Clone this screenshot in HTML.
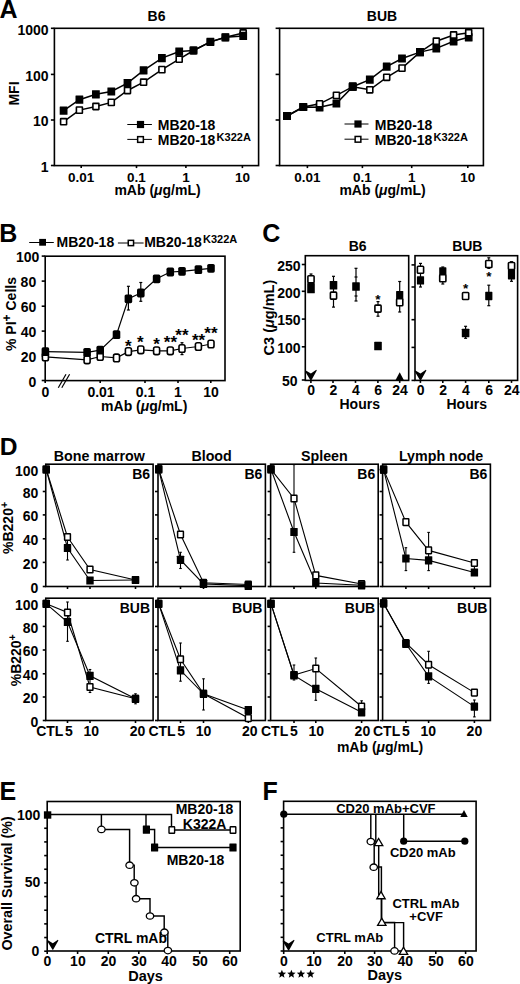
<!DOCTYPE html>
<html><head><meta charset="utf-8"><style>
html,body{margin:0;padding:0;background:#fff;}
svg{display:block;font-family:"Liberation Sans",sans-serif;}
</style></head><body>
<svg width="520" height="984" viewBox="0 0 520 984">
<rect width="520" height="984" fill="#fff"/>
<text x="-0.5" y="17.5" font-size="25" text-anchor="start" font-weight="bold" >A</text>
<rect x="54.4" y="28.3" width="204.2" height="137.3" fill="none" stroke="#000" stroke-width="1.6"/>
<line x1="50.9" y1="28.3" x2="54.4" y2="28.3" stroke="#000" stroke-width="1.6"/>
<text x="48.6" y="34.6" font-size="14" text-anchor="end" font-weight="bold" >1000</text>
<line x1="50.9" y1="74.4" x2="54.4" y2="74.4" stroke="#000" stroke-width="1.6"/>
<text x="48.6" y="80.7" font-size="14" text-anchor="end" font-weight="bold" >100</text>
<line x1="50.9" y1="120" x2="54.4" y2="120" stroke="#000" stroke-width="1.6"/>
<text x="48.6" y="126.3" font-size="14" text-anchor="end" font-weight="bold" >10</text>
<line x1="50.9" y1="165.5" x2="54.4" y2="165.5" stroke="#000" stroke-width="1.6"/>
<text x="48.6" y="171.8" font-size="14" text-anchor="end" font-weight="bold" >1</text>
<line x1="81.2" y1="165.6" x2="81.2" y2="168.1" stroke="#000" stroke-width="1.6"/>
<text x="81.2" y="181.6" font-size="13.5" text-anchor="middle" font-weight="bold" >0.01</text>
<line x1="136.5" y1="165.6" x2="136.5" y2="168.1" stroke="#000" stroke-width="1.6"/>
<text x="136.5" y="181.6" font-size="13.5" text-anchor="middle" font-weight="bold" >0.1</text>
<line x1="185.9" y1="165.6" x2="185.9" y2="168.1" stroke="#000" stroke-width="1.6"/>
<text x="185.9" y="181.6" font-size="13.5" text-anchor="middle" font-weight="bold" >1</text>
<line x1="242.4" y1="165.6" x2="242.4" y2="168.1" stroke="#000" stroke-width="1.6"/>
<text x="242.4" y="181.6" font-size="13.5" text-anchor="middle" font-weight="bold" >10</text>
<text x="157.5" y="194.5" font-size="14" text-anchor="middle" font-weight="bold" >mAb (<tspan font-style="italic">μ</tspan>g/mL)</text>
<text x="156.5" y="20.8" font-size="14" text-anchor="middle" font-weight="bold" >B6</text>
<text transform="translate(18.8,93.5) rotate(-90)" font-size="14" text-anchor="middle" font-weight="bold">MFI</text>
<polyline points="63.6,121.7 79.4,110.1 95.9,106.5 111.3,102.4 127.5,90.5 143.6,82.2 161.9,69.6 179.2,59.2 193.5,50.5 210.4,41.9 225.4,37.3 243.2,33" fill="none" stroke="#000" stroke-width="1.5" stroke-linejoin="miter"/>
<polyline points="63.6,110.7 79.4,99.7 95.9,94.3 111.3,91.5 127.5,83.2 143.6,70.3 161.9,58.1 179.2,51.6 193.5,50.5 210.4,41.9 225.4,37.3 243.2,35.9" fill="none" stroke="#000" stroke-width="1.5" stroke-linejoin="miter"/>
<rect x="60.6" y="118.6" width="6" height="6.2" rx="0.3" fill="#fff" stroke="#000" stroke-width="1.6"/>
<rect x="76.4" y="107" width="6" height="6.2" rx="0.3" fill="#fff" stroke="#000" stroke-width="1.6"/>
<rect x="92.9" y="103.4" width="6" height="6.2" rx="0.3" fill="#fff" stroke="#000" stroke-width="1.6"/>
<rect x="108.3" y="99.3" width="6" height="6.2" rx="0.3" fill="#fff" stroke="#000" stroke-width="1.6"/>
<rect x="124.5" y="87.4" width="6" height="6.2" rx="0.3" fill="#fff" stroke="#000" stroke-width="1.6"/>
<rect x="140.6" y="79.1" width="6" height="6.2" rx="0.3" fill="#fff" stroke="#000" stroke-width="1.6"/>
<rect x="158.9" y="66.5" width="6" height="6.2" rx="0.3" fill="#fff" stroke="#000" stroke-width="1.6"/>
<rect x="176.2" y="56.1" width="6" height="6.2" rx="0.3" fill="#fff" stroke="#000" stroke-width="1.6"/>
<rect x="190.5" y="47.4" width="6" height="6.2" rx="0.3" fill="#fff" stroke="#000" stroke-width="1.6"/>
<rect x="207.4" y="38.8" width="6" height="6.2" rx="0.3" fill="#fff" stroke="#000" stroke-width="1.6"/>
<rect x="222.4" y="34.2" width="6" height="6.2" rx="0.3" fill="#fff" stroke="#000" stroke-width="1.6"/>
<rect x="240.2" y="29.9" width="6" height="6.2" rx="0.3" fill="#fff" stroke="#000" stroke-width="1.6"/>
<rect x="59.7" y="106.6" width="7.8" height="8.2" rx="0.3" fill="#000"/>
<rect x="75.5" y="95.6" width="7.8" height="8.2" rx="0.3" fill="#000"/>
<rect x="92" y="90.2" width="7.8" height="8.2" rx="0.3" fill="#000"/>
<rect x="107.4" y="87.4" width="7.8" height="8.2" rx="0.3" fill="#000"/>
<rect x="123.6" y="79.1" width="7.8" height="8.2" rx="0.3" fill="#000"/>
<rect x="139.7" y="66.2" width="7.8" height="8.2" rx="0.3" fill="#000"/>
<rect x="158" y="54" width="7.8" height="8.2" rx="0.3" fill="#000"/>
<rect x="175.3" y="47.5" width="7.8" height="8.2" rx="0.3" fill="#000"/>
<rect x="189.6" y="46.4" width="7.8" height="8.2" rx="0.3" fill="#000"/>
<rect x="206.5" y="37.8" width="7.8" height="8.2" rx="0.3" fill="#000"/>
<rect x="221.5" y="33.2" width="7.8" height="8.2" rx="0.3" fill="#000"/>
<rect x="239.3" y="31.8" width="7.8" height="8.2" rx="0.3" fill="#000"/>
<line x1="127.3" y1="124.5" x2="151.9" y2="124.5" stroke="#000" stroke-width="1.0"/>
<rect x="136.9" y="120.9" width="7.2" height="7.2" fill="#000"/>
<line x1="127.3" y1="139.4" x2="151.9" y2="139.4" stroke="#000" stroke-width="1.0"/>
<rect x="137.65" y="136.65" width="5.7" height="5.7" fill="#fff" stroke="#000" stroke-width="1.5"/>
<text x="157.8" y="130.2" font-size="14" text-anchor="start" font-weight="bold" >MB20-18</text>
<text x="157.8" y="145" font-size="14" text-anchor="start" font-weight="bold" >MB20-18<tspan font-size="11" dx="1.2" dy="-4">K322A</tspan></text>
<rect x="279.6" y="28.3" width="203.8" height="137.3" fill="none" stroke="#000" stroke-width="1.6"/>
<line x1="275.6" y1="28.3" x2="279.6" y2="28.3" stroke="#000" stroke-width="1.6"/>
<line x1="275.6" y1="74.4" x2="279.6" y2="74.4" stroke="#000" stroke-width="1.6"/>
<line x1="275.6" y1="120" x2="279.6" y2="120" stroke="#000" stroke-width="1.6"/>
<line x1="275.6" y1="165.5" x2="279.6" y2="165.5" stroke="#000" stroke-width="1.6"/>
<line x1="307.4" y1="165.6" x2="307.4" y2="168.1" stroke="#000" stroke-width="1.6"/>
<text x="307.4" y="181.6" font-size="13.5" text-anchor="middle" font-weight="bold" >0.01</text>
<line x1="362.4" y1="165.6" x2="362.4" y2="168.1" stroke="#000" stroke-width="1.6"/>
<text x="362.4" y="181.6" font-size="13.5" text-anchor="middle" font-weight="bold" >0.1</text>
<line x1="411.7" y1="165.6" x2="411.7" y2="168.1" stroke="#000" stroke-width="1.6"/>
<text x="411.7" y="181.6" font-size="13.5" text-anchor="middle" font-weight="bold" >1</text>
<line x1="467.8" y1="165.6" x2="467.8" y2="168.1" stroke="#000" stroke-width="1.6"/>
<text x="467.8" y="181.6" font-size="13.5" text-anchor="middle" font-weight="bold" >10</text>
<text x="382.5" y="194.5" font-size="14" text-anchor="middle" font-weight="bold" >mAb (<tspan font-style="italic">μ</tspan>g/mL)</text>
<text x="382" y="20.8" font-size="14" text-anchor="middle" font-weight="bold" >BUB</text>
<polyline points="287,116 303.3,107 319.6,107.3 336.4,103.5 352.7,86.7 369.8,79.6 386.7,66.7 402,58.5 420,52.1 436.3,48.4 453.6,41.3 468.7,37.3" fill="none" stroke="#000" stroke-width="1.5" stroke-linejoin="miter"/>
<polyline points="287,116 303.3,107 319.6,103.8 336.4,95.4 352.7,86.7 369.8,89.8 386.7,77.3 402,68.1 420,52.1 436.3,41.2 453.6,35 468.7,32.7" fill="none" stroke="#000" stroke-width="1.5" stroke-linejoin="miter"/>
<rect x="283.1" y="111.9" width="7.8" height="8.2" rx="0.3" fill="#000"/>
<rect x="299.4" y="102.9" width="7.8" height="8.2" rx="0.3" fill="#000"/>
<rect x="315.7" y="103.2" width="7.8" height="8.2" rx="0.3" fill="#000"/>
<rect x="332.5" y="99.4" width="7.8" height="8.2" rx="0.3" fill="#000"/>
<rect x="348.8" y="82.6" width="7.8" height="8.2" rx="0.3" fill="#000"/>
<rect x="365.9" y="75.5" width="7.8" height="8.2" rx="0.3" fill="#000"/>
<rect x="382.8" y="62.6" width="7.8" height="8.2" rx="0.3" fill="#000"/>
<rect x="398.1" y="54.4" width="7.8" height="8.2" rx="0.3" fill="#000"/>
<rect x="416.1" y="48" width="7.8" height="8.2" rx="0.3" fill="#000"/>
<rect x="432.4" y="44.3" width="7.8" height="8.2" rx="0.3" fill="#000"/>
<rect x="449.7" y="37.2" width="7.8" height="8.2" rx="0.3" fill="#000"/>
<rect x="464.8" y="33.2" width="7.8" height="8.2" rx="0.3" fill="#000"/>
<rect x="284" y="112.9" width="6" height="6.2" rx="0.3" fill="#fff" stroke="#000" stroke-width="1.6"/>
<rect x="300.3" y="103.9" width="6" height="6.2" rx="0.3" fill="#fff" stroke="#000" stroke-width="1.6"/>
<rect x="316.6" y="100.7" width="6" height="6.2" rx="0.3" fill="#fff" stroke="#000" stroke-width="1.6"/>
<rect x="333.4" y="92.3" width="6" height="6.2" rx="0.3" fill="#fff" stroke="#000" stroke-width="1.6"/>
<rect x="349.7" y="83.6" width="6" height="6.2" rx="0.3" fill="#fff" stroke="#000" stroke-width="1.6"/>
<rect x="366.8" y="86.7" width="6" height="6.2" rx="0.3" fill="#fff" stroke="#000" stroke-width="1.6"/>
<rect x="383.7" y="74.2" width="6" height="6.2" rx="0.3" fill="#fff" stroke="#000" stroke-width="1.6"/>
<rect x="399" y="65" width="6" height="6.2" rx="0.3" fill="#fff" stroke="#000" stroke-width="1.6"/>
<rect x="417" y="49" width="6" height="6.2" rx="0.3" fill="#fff" stroke="#000" stroke-width="1.6"/>
<rect x="433.3" y="38.1" width="6" height="6.2" rx="0.3" fill="#fff" stroke="#000" stroke-width="1.6"/>
<rect x="450.6" y="31.9" width="6" height="6.2" rx="0.3" fill="#fff" stroke="#000" stroke-width="1.6"/>
<rect x="465.7" y="29.6" width="6" height="6.2" rx="0.3" fill="#fff" stroke="#000" stroke-width="1.6"/>
<rect x="283.1" y="111.9" width="7.8" height="8.2" rx="0.3" fill="#000"/>
<rect x="299.4" y="102.9" width="7.8" height="8.2" rx="0.3" fill="#000"/>
<rect x="348.8" y="82.6" width="7.8" height="8.2" rx="0.3" fill="#000"/>
<rect x="416.1" y="48" width="7.8" height="8.2" rx="0.3" fill="#000"/>
<line x1="344.5" y1="124" x2="368.5" y2="124" stroke="#000" stroke-width="1.0"/>
<rect x="354.4" y="120.4" width="7.2" height="7.2" fill="#000"/>
<line x1="344.5" y1="139.2" x2="368.5" y2="139.2" stroke="#000" stroke-width="1.0"/>
<rect x="355.15" y="136.45" width="5.7" height="5.7" fill="#fff" stroke="#000" stroke-width="1.5"/>
<text x="374.8" y="130.2" font-size="14" text-anchor="start" font-weight="bold" >MB20-18</text>
<text x="374.8" y="145" font-size="14" text-anchor="start" font-weight="bold" >MB20-18<tspan font-size="11" dx="1.2" dy="-4">K322A</tspan></text>
<text x="-0.8" y="241.8" font-size="25" text-anchor="start" font-weight="bold" >B</text>
<line x1="29.2" y1="242.5" x2="53.8" y2="242.5" stroke="#000" stroke-width="1.0"/>
<rect x="39.2" y="238.9" width="6.8" height="6.8" fill="#000"/>
<text x="56.6" y="247" font-size="14" text-anchor="start" font-weight="bold" >MB20-18</text>
<line x1="117.9" y1="243" x2="143.6" y2="243" stroke="#000" stroke-width="1.0"/>
<rect x="128.25" y="240.35" width="5.3" height="5.3" fill="#fff" stroke="#000" stroke-width="1.5"/>
<text x="144.2" y="247" font-size="14" text-anchor="start" font-weight="bold" >MB20-18<tspan font-size="11" dx="1.2" dy="-4">K322A</tspan></text>
<rect x="45.2" y="256.2" width="179.8" height="124.4" fill="none" stroke="#000" stroke-width="1.6"/>
<line x1="41.7" y1="256.1" x2="45.2" y2="256.1" stroke="#000" stroke-width="1.6"/>
<text x="39.4" y="262.3" font-size="14" text-anchor="end" font-weight="bold" >100</text>
<line x1="41.7" y1="281.1" x2="45.2" y2="281.1" stroke="#000" stroke-width="1.6"/>
<text x="36.2" y="287.3" font-size="14" text-anchor="end" font-weight="bold" >80</text>
<line x1="41.7" y1="306.2" x2="45.2" y2="306.2" stroke="#000" stroke-width="1.6"/>
<text x="36.3" y="312.4" font-size="14" text-anchor="end" font-weight="bold" >60</text>
<line x1="41.7" y1="331.1" x2="45.2" y2="331.1" stroke="#000" stroke-width="1.6"/>
<text x="36.3" y="337.3" font-size="14" text-anchor="end" font-weight="bold" >40</text>
<line x1="41.7" y1="356" x2="45.2" y2="356" stroke="#000" stroke-width="1.6"/>
<text x="36.3" y="362.2" font-size="14" text-anchor="end" font-weight="bold" >20</text>
<line x1="41.7" y1="380.5" x2="45.2" y2="380.5" stroke="#000" stroke-width="1.6"/>
<text x="36.3" y="386.7" font-size="14" text-anchor="end" font-weight="bold" >0</text>
<line x1="100.2" y1="380.6" x2="100.2" y2="383.1" stroke="#000" stroke-width="1.6"/>
<line x1="145" y1="380.6" x2="145" y2="383.1" stroke="#000" stroke-width="1.6"/>
<line x1="178" y1="380.6" x2="178" y2="383.1" stroke="#000" stroke-width="1.6"/>
<line x1="210.8" y1="380.6" x2="210.8" y2="383.1" stroke="#000" stroke-width="1.6"/>
<line x1="45.2" y1="380.6" x2="45.2" y2="383.1" stroke="#000" stroke-width="1.6"/>
<text x="45.3" y="396.6" font-size="14" text-anchor="middle" font-weight="bold" >0</text>
<text x="101" y="396.6" font-size="14" text-anchor="middle" font-weight="bold" >0.01</text>
<text x="145.5" y="396.6" font-size="14" text-anchor="middle" font-weight="bold" >0.1</text>
<text x="178" y="396.6" font-size="14" text-anchor="middle" font-weight="bold" >1</text>
<text x="211" y="396.6" font-size="14" text-anchor="middle" font-weight="bold" >10</text>
<line x1="58.3" y1="387.7" x2="66" y2="374.2" stroke="#000" stroke-width="1.2"/>
<line x1="61.8" y1="387.7" x2="69.6" y2="374.2" stroke="#000" stroke-width="1.2"/>
<text x="144.2" y="411" font-size="14" text-anchor="middle" font-weight="bold" >mAb (<tspan font-style="italic">μ</tspan>g/mL)</text>
<text transform="translate(15.6,314) rotate(-90)" font-size="14" text-anchor="middle" font-weight="bold">% PI<tspan font-size="12" dy="-5">+</tspan><tspan dy="5"> Cells</tspan></text>
<line x1="128.4" y1="286.3" x2="128.4" y2="310" stroke="#000" stroke-width="1.2"/>
<line x1="126.9" y1="286.3" x2="129.9" y2="286.3" stroke="#000" stroke-width="1.2"/>
<line x1="126.9" y1="310" x2="129.9" y2="310" stroke="#000" stroke-width="1.2"/>
<line x1="140.8" y1="282.5" x2="140.8" y2="301.3" stroke="#000" stroke-width="1.2"/>
<line x1="139.3" y1="282.5" x2="142.3" y2="282.5" stroke="#000" stroke-width="1.2"/>
<line x1="139.3" y1="301.3" x2="142.3" y2="301.3" stroke="#000" stroke-width="1.2"/>
<line x1="182" y1="342.7" x2="182" y2="354.6" stroke="#000" stroke-width="1.2"/>
<line x1="180.5" y1="342.7" x2="183.5" y2="342.7" stroke="#000" stroke-width="1.2"/>
<line x1="180.5" y1="354.6" x2="183.5" y2="354.6" stroke="#000" stroke-width="1.2"/>
<polyline points="45.4,356.9 87.1,359.8 100.2,356.5 116.5,357.9 128.4,351.6 140.8,349.8 156.6,350.8 170.3,350.8 182,348.5 198.4,346.5 211,344" fill="none" stroke="#000" stroke-width="1.2" stroke-linejoin="miter"/>
<polyline points="45.4,351.7 87.1,352.4 100.2,350.2 116.5,334.6 128.4,298.8 140.8,293 156.6,278.8 170.3,272 182,271.3 198.4,269.6 211,268.3" fill="none" stroke="#000" stroke-width="1.2" stroke-linejoin="miter"/>
<rect x="42.4" y="353.1" width="6" height="7.6" rx="1.8" fill="#fff" stroke="#000" stroke-width="1.6"/>
<rect x="84.1" y="356" width="6" height="7.6" rx="1.8" fill="#fff" stroke="#000" stroke-width="1.6"/>
<rect x="97.2" y="352.7" width="6" height="7.6" rx="1.8" fill="#fff" stroke="#000" stroke-width="1.6"/>
<rect x="113.5" y="354.1" width="6" height="7.6" rx="1.8" fill="#fff" stroke="#000" stroke-width="1.6"/>
<rect x="125.4" y="347.8" width="6" height="7.6" rx="1.8" fill="#fff" stroke="#000" stroke-width="1.6"/>
<rect x="137.8" y="346" width="6" height="7.6" rx="1.8" fill="#fff" stroke="#000" stroke-width="1.6"/>
<rect x="153.6" y="347" width="6" height="7.6" rx="1.8" fill="#fff" stroke="#000" stroke-width="1.6"/>
<rect x="167.3" y="347" width="6" height="7.6" rx="1.8" fill="#fff" stroke="#000" stroke-width="1.6"/>
<rect x="179" y="344.7" width="6" height="7.6" rx="1.8" fill="#fff" stroke="#000" stroke-width="1.6"/>
<rect x="195.4" y="342.7" width="6" height="7.6" rx="1.8" fill="#fff" stroke="#000" stroke-width="1.6"/>
<rect x="208" y="340.2" width="6" height="7.6" rx="1.8" fill="#fff" stroke="#000" stroke-width="1.6"/>
<rect x="41.6" y="347.3" width="7.6" height="8.8" rx="1.6" fill="#000"/>
<rect x="83.3" y="348" width="7.6" height="8.8" rx="1.6" fill="#000"/>
<rect x="96.4" y="345.8" width="7.6" height="8.8" rx="1.6" fill="#000"/>
<rect x="112.7" y="330.2" width="7.6" height="8.8" rx="1.6" fill="#000"/>
<rect x="124.6" y="294.4" width="7.6" height="8.8" rx="1.6" fill="#000"/>
<rect x="137" y="288.6" width="7.6" height="8.8" rx="1.6" fill="#000"/>
<rect x="152.8" y="274.4" width="7.6" height="8.8" rx="1.6" fill="#000"/>
<rect x="166.5" y="267.6" width="7.6" height="8.8" rx="1.6" fill="#000"/>
<rect x="178.2" y="266.9" width="7.6" height="8.8" rx="1.6" fill="#000"/>
<rect x="194.6" y="265.2" width="7.6" height="8.8" rx="1.6" fill="#000"/>
<rect x="207.2" y="263.9" width="7.6" height="8.8" rx="1.6" fill="#000"/>
<text x="128.3" y="352" font-size="17" text-anchor="middle" font-weight="bold" >*</text>
<text x="140.3" y="347.8" font-size="17" text-anchor="middle" font-weight="bold" >*</text>
<text x="156.5" y="349.8" font-size="17" text-anchor="middle" font-weight="bold" >*</text>
<text x="170.4" y="348.2" font-size="17" text-anchor="middle" font-weight="bold" >**</text>
<text x="181.9" y="341.1" font-size="17" text-anchor="middle" font-weight="bold" >**</text>
<text x="198.6" y="345.5" font-size="17" text-anchor="middle" font-weight="bold" >**</text>
<text x="210.9" y="338.6" font-size="17" text-anchor="middle" font-weight="bold" >**</text>
<text x="262.2" y="241.9" font-size="25" text-anchor="start" font-weight="bold" >C</text>
<rect x="305.3" y="255.7" width="103.4" height="124.7" fill="none" stroke="#000" stroke-width="1.6"/>
<rect x="415" y="255.7" width="102.6" height="124.7" fill="none" stroke="#000" stroke-width="1.6"/>
<text x="357.7" y="250.6" font-size="14" text-anchor="middle" font-weight="bold" >B6</text>
<text x="467.3" y="250.6" font-size="14" text-anchor="middle" font-weight="bold" >BUB</text>
<line x1="301.8" y1="264.5" x2="305.3" y2="264.5" stroke="#000" stroke-width="1.6"/>
<text x="300.6" y="270.7" font-size="14" text-anchor="end" font-weight="bold" >250</text>
<line x1="301.8" y1="291.3" x2="305.3" y2="291.3" stroke="#000" stroke-width="1.6"/>
<text x="300.6" y="297.5" font-size="14" text-anchor="end" font-weight="bold" >200</text>
<line x1="301.8" y1="319.1" x2="305.3" y2="319.1" stroke="#000" stroke-width="1.6"/>
<text x="300.6" y="325.3" font-size="14" text-anchor="end" font-weight="bold" >150</text>
<line x1="301.8" y1="346.8" x2="305.3" y2="346.8" stroke="#000" stroke-width="1.6"/>
<text x="300.6" y="353" font-size="14" text-anchor="end" font-weight="bold" >100</text>
<line x1="301.8" y1="380" x2="305.3" y2="380" stroke="#000" stroke-width="1.6"/>
<text x="297.6" y="386.2" font-size="14" text-anchor="end" font-weight="bold" >50</text>
<line x1="411.5" y1="264.9" x2="415" y2="264.9" stroke="#000" stroke-width="1.6"/>
<line x1="411.5" y1="287" x2="415" y2="287" stroke="#000" stroke-width="1.6"/>
<line x1="411.5" y1="319.7" x2="415" y2="319.7" stroke="#000" stroke-width="1.6"/>
<line x1="411.5" y1="347.4" x2="415" y2="347.4" stroke="#000" stroke-width="1.6"/>
<line x1="411.5" y1="380.4" x2="415" y2="380.4" stroke="#000" stroke-width="1.6"/>
<text transform="translate(273.6,317.6) rotate(-90)" font-size="14.5" text-anchor="middle" font-weight="bold">C3 (<tspan font-style="italic">μ</tspan>g/mL)</text>
<line x1="310.9" y1="380.4" x2="310.9" y2="382.9" stroke="#000" stroke-width="1.6"/>
<text x="311.2" y="394.8" font-size="14" text-anchor="middle" font-weight="bold" >0</text>
<line x1="333" y1="380.4" x2="333" y2="382.9" stroke="#000" stroke-width="1.6"/>
<text x="333.3" y="394.8" font-size="14" text-anchor="middle" font-weight="bold" >2</text>
<line x1="355.5" y1="380.4" x2="355.5" y2="382.9" stroke="#000" stroke-width="1.6"/>
<text x="355.8" y="394.8" font-size="14" text-anchor="middle" font-weight="bold" >4</text>
<line x1="377.9" y1="380.4" x2="377.9" y2="382.9" stroke="#000" stroke-width="1.6"/>
<text x="378.2" y="394.8" font-size="14" text-anchor="middle" font-weight="bold" >6</text>
<line x1="399.7" y1="380.4" x2="399.7" y2="382.9" stroke="#000" stroke-width="1.6"/>
<text x="400" y="394.8" font-size="14" text-anchor="middle" font-weight="bold" >24</text>
<line x1="420.4" y1="380.4" x2="420.4" y2="382.9" stroke="#000" stroke-width="1.6"/>
<text x="420.7" y="394.8" font-size="14" text-anchor="middle" font-weight="bold" >0</text>
<line x1="442.8" y1="380.4" x2="442.8" y2="382.9" stroke="#000" stroke-width="1.6"/>
<text x="443.1" y="394.8" font-size="14" text-anchor="middle" font-weight="bold" >2</text>
<line x1="465.6" y1="380.4" x2="465.6" y2="382.9" stroke="#000" stroke-width="1.6"/>
<text x="465.9" y="394.8" font-size="14" text-anchor="middle" font-weight="bold" >4</text>
<line x1="488.8" y1="380.4" x2="488.8" y2="382.9" stroke="#000" stroke-width="1.6"/>
<text x="489.1" y="394.8" font-size="14" text-anchor="middle" font-weight="bold" >6</text>
<line x1="511.5" y1="380.4" x2="511.5" y2="382.9" stroke="#000" stroke-width="1.6"/>
<text x="511.8" y="394.8" font-size="14" text-anchor="middle" font-weight="bold" >24</text>
<text x="359.7" y="409.3" font-size="14" text-anchor="middle" font-weight="bold" >Hours</text>
<text x="466.7" y="409.3" font-size="14" text-anchor="middle" font-weight="bold" >Hours</text>
<line x1="311" y1="274" x2="311" y2="291" stroke="#000" stroke-width="1.2"/>
<line x1="309.5" y1="274" x2="312.5" y2="274" stroke="#000" stroke-width="1.2"/>
<line x1="309.5" y1="291" x2="312.5" y2="291" stroke="#000" stroke-width="1.2"/>
<rect x="307.2" y="283.1" width="7.6" height="10.2" rx="0.6" fill="#000"/>
<rect x="307.9" y="275.7" width="6.2" height="7" rx="0.8" fill="#fff" stroke="#000" stroke-width="1.6"/>
<line x1="333.5" y1="276.3" x2="333.5" y2="307.1" stroke="#000" stroke-width="1.2"/>
<line x1="332" y1="276.3" x2="335" y2="276.3" stroke="#000" stroke-width="1.2"/>
<line x1="332" y1="307.1" x2="335" y2="307.1" stroke="#000" stroke-width="1.2"/>
<rect x="330.4" y="292.1" width="6.2" height="7" rx="0.8" fill="#fff" stroke="#000" stroke-width="1.6"/>
<rect x="329.7" y="280.9" width="7.6" height="8.6" rx="0.6" fill="#000"/>
<line x1="356" y1="268.3" x2="356" y2="301" stroke="#000" stroke-width="1.2"/>
<line x1="354.5" y1="268.3" x2="357.5" y2="268.3" stroke="#000" stroke-width="1.2"/>
<line x1="354.5" y1="301" x2="357.5" y2="301" stroke="#000" stroke-width="1.2"/>
<line x1="354.5" y1="277" x2="357.5" y2="277" stroke="#000" stroke-width="1.2"/>
<line x1="354.5" y1="296" x2="357.5" y2="296" stroke="#000" stroke-width="1.2"/>
<rect x="352.2" y="282.2" width="7.6" height="8.6" rx="0.6" fill="#000"/>
<line x1="378" y1="301.6" x2="378" y2="316.2" stroke="#000" stroke-width="1.2"/>
<line x1="376.5" y1="301.6" x2="379.5" y2="301.6" stroke="#000" stroke-width="1.2"/>
<line x1="376.5" y1="316.2" x2="379.5" y2="316.2" stroke="#000" stroke-width="1.2"/>
<rect x="374.9" y="305.1" width="6.2" height="7" rx="0.8" fill="#fff" stroke="#000" stroke-width="1.6"/>
<rect x="374.2" y="341.7" width="7.6" height="8.6" rx="0.6" fill="#000"/>
<text x="378" y="303.6" font-size="13.5" text-anchor="middle" font-weight="bold" >*</text>
<line x1="399.7" y1="281.5" x2="399.7" y2="312" stroke="#000" stroke-width="1.2"/>
<line x1="398.2" y1="281.5" x2="401.2" y2="281.5" stroke="#000" stroke-width="1.2"/>
<line x1="398.2" y1="312" x2="401.2" y2="312" stroke="#000" stroke-width="1.2"/>
<rect x="396.1" y="290.9" width="7.2" height="9" rx="0.6" fill="#000"/>
<rect x="396.6" y="298.8" width="6.2" height="7" rx="0.8" fill="#fff" stroke="#000" stroke-width="1.6"/>
<path d="M395.6,380 L399.7,372.2 L403.8,380 Z" fill="#000"/>
<path d="M305.4,370.2 L310.9,373.5 L316.3,369.8 L316.8,370.6 L311.25,380.4 L310.55,380.4 L305,371.2 Z" fill="#000"/>
<line x1="420.5" y1="263.4" x2="420.5" y2="287" stroke="#000" stroke-width="1.2"/>
<line x1="419" y1="263.4" x2="422" y2="263.4" stroke="#000" stroke-width="1.2"/>
<line x1="419" y1="287" x2="422" y2="287" stroke="#000" stroke-width="1.2"/>
<rect x="417.4" y="266.3" width="6.2" height="7" rx="0.8" fill="#fff" stroke="#000" stroke-width="1.6"/>
<rect x="416.9" y="276.2" width="7.2" height="8.4" rx="0.6" fill="#000"/>
<line x1="442.8" y1="267" x2="442.8" y2="284" stroke="#000" stroke-width="1.2"/>
<line x1="441.3" y1="267" x2="444.3" y2="267" stroke="#000" stroke-width="1.2"/>
<line x1="441.3" y1="284" x2="444.3" y2="284" stroke="#000" stroke-width="1.2"/>
<rect x="439.2" y="267.3" width="7.2" height="8" rx="0.6" fill="#000"/>
<rect x="439.7" y="274.7" width="6.2" height="7" rx="0.8" fill="#fff" stroke="#000" stroke-width="1.6"/>
<line x1="465.6" y1="326.3" x2="465.6" y2="338.3" stroke="#000" stroke-width="1.2"/>
<line x1="464.1" y1="326.3" x2="467.1" y2="326.3" stroke="#000" stroke-width="1.2"/>
<line x1="464.1" y1="338.3" x2="467.1" y2="338.3" stroke="#000" stroke-width="1.2"/>
<rect x="462.5" y="292.5" width="6.2" height="7" rx="0.8" fill="#fff" stroke="#000" stroke-width="1.6"/>
<rect x="461.8" y="328.7" width="7.6" height="8.6" rx="0.6" fill="#000"/>
<text x="465.6" y="292.6" font-size="13.5" text-anchor="middle" font-weight="bold" >*</text>
<line x1="488.8" y1="257.8" x2="488.8" y2="268.4" stroke="#000" stroke-width="1.2"/>
<line x1="487.3" y1="257.8" x2="490.3" y2="257.8" stroke="#000" stroke-width="1.2"/>
<line x1="487.3" y1="268.4" x2="490.3" y2="268.4" stroke="#000" stroke-width="1.2"/>
<rect x="485.7" y="260.5" width="6.2" height="7" rx="0.8" fill="#fff" stroke="#000" stroke-width="1.6"/>
<line x1="488.8" y1="285.2" x2="488.8" y2="305.7" stroke="#000" stroke-width="1.2"/>
<line x1="487.3" y1="285.2" x2="490.3" y2="285.2" stroke="#000" stroke-width="1.2"/>
<line x1="487.3" y1="305.7" x2="490.3" y2="305.7" stroke="#000" stroke-width="1.2"/>
<rect x="485.2" y="291.8" width="7.2" height="8.4" rx="0.6" fill="#000"/>
<text x="488.8" y="281.2" font-size="13.5" text-anchor="middle" font-weight="bold" >*</text>
<line x1="511.5" y1="261.7" x2="511.5" y2="281.3" stroke="#000" stroke-width="1.2"/>
<line x1="510" y1="261.7" x2="513" y2="261.7" stroke="#000" stroke-width="1.2"/>
<line x1="510" y1="281.3" x2="513" y2="281.3" stroke="#000" stroke-width="1.2"/>
<rect x="507.9" y="269.8" width="7.2" height="9.6" rx="0.6" fill="#000"/>
<rect x="508.4" y="262.5" width="6.2" height="7" rx="0.8" fill="#fff" stroke="#000" stroke-width="1.6"/>
<path d="M415,370.2 L420.5,373.5 L425.9,369.8 L426.4,370.6 L420.85,380.4 L420.15,380.4 L414.6,371.2 Z" fill="#000"/>
<text x="-0.3" y="454.9" font-size="24.6" text-anchor="start" font-weight="bold" >D</text>
<text x="99.3" y="461" font-size="14.25" text-anchor="middle" font-weight="bold" >Bone marrow</text>
<text x="211.6" y="461" font-size="14.25" text-anchor="middle" font-weight="bold" >Blood</text>
<text x="324.4" y="461" font-size="14.25" text-anchor="middle" font-weight="bold" >Spleen</text>
<text x="441" y="461" font-size="14.25" text-anchor="middle" font-weight="bold" >Lymph node</text>
<rect x="45.75" y="464.2" width="107.35" height="122.3" fill="none" stroke="#000" stroke-width="1.6"/>
<line x1="42.75" y1="469.6" x2="45.75" y2="469.6" stroke="#000" stroke-width="1.6"/>
<line x1="42.75" y1="491.5" x2="45.75" y2="491.5" stroke="#000" stroke-width="1.6"/>
<line x1="42.75" y1="514.9" x2="45.75" y2="514.9" stroke="#000" stroke-width="1.6"/>
<line x1="42.75" y1="538.8" x2="45.75" y2="538.8" stroke="#000" stroke-width="1.6"/>
<line x1="42.75" y1="562.4" x2="45.75" y2="562.4" stroke="#000" stroke-width="1.6"/>
<line x1="42.75" y1="586.5" x2="45.75" y2="586.5" stroke="#000" stroke-width="1.6"/>
<line x1="67.5" y1="586.5" x2="67.5" y2="589" stroke="#000" stroke-width="1.6"/>
<line x1="90" y1="586.5" x2="90" y2="589" stroke="#000" stroke-width="1.6"/>
<line x1="135.5" y1="586.5" x2="135.5" y2="589" stroke="#000" stroke-width="1.6"/>
<text x="150.1" y="479.4" font-size="14" text-anchor="end" font-weight="bold" >B6</text>
<rect x="158" y="464.2" width="107.4" height="122.3" fill="none" stroke="#000" stroke-width="1.6"/>
<line x1="155" y1="469.6" x2="158" y2="469.6" stroke="#000" stroke-width="1.6"/>
<line x1="155" y1="491.5" x2="158" y2="491.5" stroke="#000" stroke-width="1.6"/>
<line x1="155" y1="514.9" x2="158" y2="514.9" stroke="#000" stroke-width="1.6"/>
<line x1="155" y1="538.8" x2="158" y2="538.8" stroke="#000" stroke-width="1.6"/>
<line x1="155" y1="562.4" x2="158" y2="562.4" stroke="#000" stroke-width="1.6"/>
<line x1="155" y1="586.5" x2="158" y2="586.5" stroke="#000" stroke-width="1.6"/>
<line x1="180.5" y1="586.5" x2="180.5" y2="589" stroke="#000" stroke-width="1.6"/>
<line x1="203.5" y1="586.5" x2="203.5" y2="589" stroke="#000" stroke-width="1.6"/>
<line x1="248.3" y1="586.5" x2="248.3" y2="589" stroke="#000" stroke-width="1.6"/>
<text x="262.4" y="479.4" font-size="14" text-anchor="end" font-weight="bold" >B6</text>
<rect x="270.6" y="464.2" width="107.6" height="122.3" fill="none" stroke="#000" stroke-width="1.6"/>
<line x1="267.6" y1="469.6" x2="270.6" y2="469.6" stroke="#000" stroke-width="1.6"/>
<line x1="267.6" y1="491.5" x2="270.6" y2="491.5" stroke="#000" stroke-width="1.6"/>
<line x1="267.6" y1="514.9" x2="270.6" y2="514.9" stroke="#000" stroke-width="1.6"/>
<line x1="267.6" y1="538.8" x2="270.6" y2="538.8" stroke="#000" stroke-width="1.6"/>
<line x1="267.6" y1="562.4" x2="270.6" y2="562.4" stroke="#000" stroke-width="1.6"/>
<line x1="267.6" y1="586.5" x2="270.6" y2="586.5" stroke="#000" stroke-width="1.6"/>
<line x1="294" y1="586.5" x2="294" y2="589" stroke="#000" stroke-width="1.6"/>
<line x1="315.8" y1="586.5" x2="315.8" y2="589" stroke="#000" stroke-width="1.6"/>
<line x1="361.6" y1="586.5" x2="361.6" y2="589" stroke="#000" stroke-width="1.6"/>
<text x="375.2" y="479.4" font-size="14" text-anchor="end" font-weight="bold" >B6</text>
<rect x="382.6" y="464.2" width="107.8" height="122.3" fill="none" stroke="#000" stroke-width="1.6"/>
<line x1="379.6" y1="469.6" x2="382.6" y2="469.6" stroke="#000" stroke-width="1.6"/>
<line x1="379.6" y1="491.5" x2="382.6" y2="491.5" stroke="#000" stroke-width="1.6"/>
<line x1="379.6" y1="514.9" x2="382.6" y2="514.9" stroke="#000" stroke-width="1.6"/>
<line x1="379.6" y1="538.8" x2="382.6" y2="538.8" stroke="#000" stroke-width="1.6"/>
<line x1="379.6" y1="562.4" x2="382.6" y2="562.4" stroke="#000" stroke-width="1.6"/>
<line x1="379.6" y1="586.5" x2="382.6" y2="586.5" stroke="#000" stroke-width="1.6"/>
<line x1="405.9" y1="586.5" x2="405.9" y2="589" stroke="#000" stroke-width="1.6"/>
<line x1="428.6" y1="586.5" x2="428.6" y2="589" stroke="#000" stroke-width="1.6"/>
<line x1="474.4" y1="586.5" x2="474.4" y2="589" stroke="#000" stroke-width="1.6"/>
<text x="487.4" y="479.4" font-size="14" text-anchor="end" font-weight="bold" >B6</text>
<rect x="45.75" y="598.2" width="107.35" height="122.3" fill="none" stroke="#000" stroke-width="1.6"/>
<line x1="42.75" y1="603.9" x2="45.75" y2="603.9" stroke="#000" stroke-width="1.6"/>
<line x1="42.75" y1="626.4" x2="45.75" y2="626.4" stroke="#000" stroke-width="1.6"/>
<line x1="42.75" y1="650" x2="45.75" y2="650" stroke="#000" stroke-width="1.6"/>
<line x1="42.75" y1="673.8" x2="45.75" y2="673.8" stroke="#000" stroke-width="1.6"/>
<line x1="42.75" y1="697" x2="45.75" y2="697" stroke="#000" stroke-width="1.6"/>
<line x1="42.75" y1="720.5" x2="45.75" y2="720.5" stroke="#000" stroke-width="1.6"/>
<line x1="67.5" y1="720.5" x2="67.5" y2="723" stroke="#000" stroke-width="1.6"/>
<line x1="90" y1="720.5" x2="90" y2="723" stroke="#000" stroke-width="1.6"/>
<line x1="135.5" y1="720.5" x2="135.5" y2="723" stroke="#000" stroke-width="1.6"/>
<text x="150.1" y="613.4" font-size="14" text-anchor="end" font-weight="bold" >BUB</text>
<rect x="158" y="598.2" width="107.4" height="122.3" fill="none" stroke="#000" stroke-width="1.6"/>
<line x1="155" y1="603.9" x2="158" y2="603.9" stroke="#000" stroke-width="1.6"/>
<line x1="155" y1="626.4" x2="158" y2="626.4" stroke="#000" stroke-width="1.6"/>
<line x1="155" y1="650" x2="158" y2="650" stroke="#000" stroke-width="1.6"/>
<line x1="155" y1="673.8" x2="158" y2="673.8" stroke="#000" stroke-width="1.6"/>
<line x1="155" y1="697" x2="158" y2="697" stroke="#000" stroke-width="1.6"/>
<line x1="155" y1="720.5" x2="158" y2="720.5" stroke="#000" stroke-width="1.6"/>
<line x1="180.5" y1="720.5" x2="180.5" y2="723" stroke="#000" stroke-width="1.6"/>
<line x1="203.5" y1="720.5" x2="203.5" y2="723" stroke="#000" stroke-width="1.6"/>
<line x1="248.3" y1="720.5" x2="248.3" y2="723" stroke="#000" stroke-width="1.6"/>
<text x="262.4" y="613.4" font-size="14" text-anchor="end" font-weight="bold" >BUB</text>
<rect x="270.6" y="598.2" width="107.6" height="122.3" fill="none" stroke="#000" stroke-width="1.6"/>
<line x1="267.6" y1="603.9" x2="270.6" y2="603.9" stroke="#000" stroke-width="1.6"/>
<line x1="267.6" y1="626.4" x2="270.6" y2="626.4" stroke="#000" stroke-width="1.6"/>
<line x1="267.6" y1="650" x2="270.6" y2="650" stroke="#000" stroke-width="1.6"/>
<line x1="267.6" y1="673.8" x2="270.6" y2="673.8" stroke="#000" stroke-width="1.6"/>
<line x1="267.6" y1="697" x2="270.6" y2="697" stroke="#000" stroke-width="1.6"/>
<line x1="267.6" y1="720.5" x2="270.6" y2="720.5" stroke="#000" stroke-width="1.6"/>
<line x1="294" y1="720.5" x2="294" y2="723" stroke="#000" stroke-width="1.6"/>
<line x1="315.8" y1="720.5" x2="315.8" y2="723" stroke="#000" stroke-width="1.6"/>
<line x1="361.6" y1="720.5" x2="361.6" y2="723" stroke="#000" stroke-width="1.6"/>
<text x="375.2" y="613.4" font-size="14" text-anchor="end" font-weight="bold" >BUB</text>
<rect x="382.6" y="598.2" width="107.8" height="122.3" fill="none" stroke="#000" stroke-width="1.6"/>
<line x1="379.6" y1="603.9" x2="382.6" y2="603.9" stroke="#000" stroke-width="1.6"/>
<line x1="379.6" y1="626.4" x2="382.6" y2="626.4" stroke="#000" stroke-width="1.6"/>
<line x1="379.6" y1="650" x2="382.6" y2="650" stroke="#000" stroke-width="1.6"/>
<line x1="379.6" y1="673.8" x2="382.6" y2="673.8" stroke="#000" stroke-width="1.6"/>
<line x1="379.6" y1="697" x2="382.6" y2="697" stroke="#000" stroke-width="1.6"/>
<line x1="379.6" y1="720.5" x2="382.6" y2="720.5" stroke="#000" stroke-width="1.6"/>
<line x1="405.9" y1="720.5" x2="405.9" y2="723" stroke="#000" stroke-width="1.6"/>
<line x1="428.6" y1="720.5" x2="428.6" y2="723" stroke="#000" stroke-width="1.6"/>
<line x1="474.4" y1="720.5" x2="474.4" y2="723" stroke="#000" stroke-width="1.6"/>
<text x="487.4" y="613.4" font-size="14" text-anchor="end" font-weight="bold" >BUB</text>
<text x="38.3" y="475.8" font-size="14" text-anchor="end" font-weight="bold" >100</text>
<text x="38.3" y="497.7" font-size="14" text-anchor="end" font-weight="bold" >80</text>
<text x="38.3" y="521.1" font-size="14" text-anchor="end" font-weight="bold" >60</text>
<text x="38.3" y="545" font-size="14" text-anchor="end" font-weight="bold" >40</text>
<text x="38.3" y="568.6" font-size="14" text-anchor="end" font-weight="bold" >20</text>
<text x="38.3" y="592.7" font-size="14" text-anchor="end" font-weight="bold" >0</text>
<text x="38.3" y="610.1" font-size="14" text-anchor="end" font-weight="bold" >100</text>
<text x="38.3" y="632.6" font-size="14" text-anchor="end" font-weight="bold" >80</text>
<text x="38.3" y="656.2" font-size="14" text-anchor="end" font-weight="bold" >60</text>
<text x="38.3" y="680" font-size="14" text-anchor="end" font-weight="bold" >40</text>
<text x="38.3" y="703.2" font-size="14" text-anchor="end" font-weight="bold" >20</text>
<text x="38.3" y="726.7" font-size="14" text-anchor="end" font-weight="bold" >0</text>
<text transform="translate(13.3,554) rotate(-90)" font-size="14" text-anchor="start" font-weight="bold">%B220<tspan font-size="10.5" dy="-5">+</tspan></text>
<text transform="translate(20.9,686.3) rotate(-90)" font-size="14" text-anchor="start" font-weight="bold">%B220<tspan font-size="10.5" dy="-5">+</tspan></text>
<text x="63.35" y="736.3" font-size="14" text-anchor="end" font-weight="bold" >CTL</text>
<text x="68.95" y="736.3" font-size="14" text-anchor="middle" font-weight="bold" >5</text>
<text x="91.35" y="736.3" font-size="14" text-anchor="middle" font-weight="bold" >10</text>
<text x="137.55" y="736.3" font-size="14" text-anchor="middle" font-weight="bold" >20</text>
<text x="175.6" y="736.3" font-size="14" text-anchor="end" font-weight="bold" >CTL</text>
<text x="181.2" y="736.3" font-size="14" text-anchor="middle" font-weight="bold" >5</text>
<text x="203.6" y="736.3" font-size="14" text-anchor="middle" font-weight="bold" >10</text>
<text x="249.8" y="736.3" font-size="14" text-anchor="middle" font-weight="bold" >20</text>
<text x="288.2" y="736.3" font-size="14" text-anchor="end" font-weight="bold" >CTL</text>
<text x="293.8" y="736.3" font-size="14" text-anchor="middle" font-weight="bold" >5</text>
<text x="316.2" y="736.3" font-size="14" text-anchor="middle" font-weight="bold" >10</text>
<text x="362.4" y="736.3" font-size="14" text-anchor="middle" font-weight="bold" >20</text>
<text x="400.2" y="736.3" font-size="14" text-anchor="end" font-weight="bold" >CTL</text>
<text x="405.8" y="736.3" font-size="14" text-anchor="middle" font-weight="bold" >5</text>
<text x="428.2" y="736.3" font-size="14" text-anchor="middle" font-weight="bold" >10</text>
<text x="474.4" y="736.3" font-size="14" text-anchor="middle" font-weight="bold" >20</text>
<text x="380" y="752" font-size="14" text-anchor="middle" font-weight="bold" >mAb (<tspan font-style="italic">μ</tspan>g/mL)</text>
<line x1="67.5" y1="537" x2="67.5" y2="560" stroke="#000" stroke-width="1.1"/>
<line x1="66.2" y1="537" x2="68.8" y2="537" stroke="#000" stroke-width="1.1"/>
<line x1="66.2" y1="560" x2="68.8" y2="560" stroke="#000" stroke-width="1.1"/>
<polyline points="46.25,469.5 67.5,537 90,569.5 135.5,580" fill="none" stroke="#000" stroke-width="1.1" stroke-linejoin="miter"/>
<polyline points="46.25,469.5 67.5,548 90,580.5 135.5,580" fill="none" stroke="#000" stroke-width="1.1" stroke-linejoin="miter"/>
<rect x="43.35" y="466.2" width="5.8" height="6.6" rx="0.4" fill="#fff" stroke="#000" stroke-width="1.5"/>
<rect x="64.6" y="533.7" width="5.8" height="6.6" rx="0.4" fill="#fff" stroke="#000" stroke-width="1.5"/>
<rect x="87.1" y="566.2" width="5.8" height="6.6" rx="0.4" fill="#fff" stroke="#000" stroke-width="1.5"/>
<rect x="132.6" y="576.7" width="5.8" height="6.6" rx="0.4" fill="#fff" stroke="#000" stroke-width="1.5"/>
<rect x="42.55" y="465.4" width="7.4" height="8.2" rx="0.4" fill="#000"/>
<rect x="63.8" y="543.9" width="7.4" height="8.2" rx="0.4" fill="#000"/>
<rect x="86.3" y="576.4" width="7.4" height="8.2" rx="0.4" fill="#000"/>
<rect x="131.8" y="575.9" width="7.4" height="8.2" rx="0.4" fill="#000"/>
<line x1="180.5" y1="552.3" x2="180.5" y2="568.5" stroke="#000" stroke-width="1.1"/>
<line x1="179.2" y1="552.3" x2="181.8" y2="552.3" stroke="#000" stroke-width="1.1"/>
<line x1="179.2" y1="568.5" x2="181.8" y2="568.5" stroke="#000" stroke-width="1.1"/>
<polyline points="158.7,469.3 180.5,534.5 203.5,582.8 248.3,584.5" fill="none" stroke="#000" stroke-width="1.1" stroke-linejoin="miter"/>
<polyline points="158.7,469.3 180.5,559.9 203.5,583.9 248.3,585.8" fill="none" stroke="#000" stroke-width="1.1" stroke-linejoin="miter"/>
<rect x="155.8" y="466" width="5.8" height="6.6" rx="0.4" fill="#fff" stroke="#000" stroke-width="1.5"/>
<rect x="177.6" y="531.2" width="5.8" height="6.6" rx="0.4" fill="#fff" stroke="#000" stroke-width="1.5"/>
<rect x="200.6" y="579.5" width="5.8" height="6.6" rx="0.4" fill="#fff" stroke="#000" stroke-width="1.5"/>
<rect x="245.4" y="581.2" width="5.8" height="6.6" rx="0.4" fill="#fff" stroke="#000" stroke-width="1.5"/>
<rect x="155" y="465.2" width="7.4" height="8.2" rx="0.4" fill="#000"/>
<rect x="176.8" y="555.8" width="7.4" height="8.2" rx="0.4" fill="#000"/>
<rect x="199.8" y="579.8" width="7.4" height="8.2" rx="0.4" fill="#000"/>
<rect x="244.6" y="581.7" width="7.4" height="8.2" rx="0.4" fill="#000"/>
<line x1="294" y1="464.6" x2="294" y2="552.3" stroke="#000" stroke-width="1.1"/>
<line x1="292.7" y1="464.6" x2="295.3" y2="464.6" stroke="#000" stroke-width="1.1"/>
<line x1="292.7" y1="552.3" x2="295.3" y2="552.3" stroke="#000" stroke-width="1.1"/>
<polyline points="271,469.3 294,498.5 315.8,575.4 361.6,584" fill="none" stroke="#000" stroke-width="1.1" stroke-linejoin="miter"/>
<polyline points="271,469.3 294,532 315.8,583 361.6,585.3" fill="none" stroke="#000" stroke-width="1.1" stroke-linejoin="miter"/>
<rect x="268.1" y="466" width="5.8" height="6.6" rx="0.4" fill="#fff" stroke="#000" stroke-width="1.5"/>
<rect x="291.1" y="495.2" width="5.8" height="6.6" rx="0.4" fill="#fff" stroke="#000" stroke-width="1.5"/>
<rect x="312.9" y="572.1" width="5.8" height="6.6" rx="0.4" fill="#fff" stroke="#000" stroke-width="1.5"/>
<rect x="358.7" y="580.7" width="5.8" height="6.6" rx="0.4" fill="#fff" stroke="#000" stroke-width="1.5"/>
<rect x="267.3" y="465.2" width="7.4" height="8.2" rx="0.4" fill="#000"/>
<rect x="290.3" y="527.9" width="7.4" height="8.2" rx="0.4" fill="#000"/>
<rect x="312.1" y="578.9" width="7.4" height="8.2" rx="0.4" fill="#000"/>
<rect x="357.9" y="581.2" width="7.4" height="8.2" rx="0.4" fill="#000"/>
<line x1="405.9" y1="547.7" x2="405.9" y2="570.6" stroke="#000" stroke-width="1.1"/>
<line x1="404.6" y1="547.7" x2="407.2" y2="547.7" stroke="#000" stroke-width="1.1"/>
<line x1="404.6" y1="570.6" x2="407.2" y2="570.6" stroke="#000" stroke-width="1.1"/>
<line x1="428.6" y1="532.4" x2="428.6" y2="570.6" stroke="#000" stroke-width="1.1"/>
<line x1="427.3" y1="532.4" x2="429.9" y2="532.4" stroke="#000" stroke-width="1.1"/>
<line x1="427.3" y1="570.6" x2="429.9" y2="570.6" stroke="#000" stroke-width="1.1"/>
<line x1="474.4" y1="560" x2="474.4" y2="575" stroke="#000" stroke-width="1.1"/>
<line x1="473.1" y1="560" x2="475.7" y2="560" stroke="#000" stroke-width="1.1"/>
<line x1="473.1" y1="575" x2="475.7" y2="575" stroke="#000" stroke-width="1.1"/>
<polyline points="383.6,469.6 405.9,522.1 428.6,550.4 474.4,563" fill="none" stroke="#000" stroke-width="1.1" stroke-linejoin="miter"/>
<polyline points="383.6,469.6 405.9,558.5 428.6,560.4 474.4,572.5" fill="none" stroke="#000" stroke-width="1.1" stroke-linejoin="miter"/>
<rect x="380.7" y="466.3" width="5.8" height="6.6" rx="0.4" fill="#fff" stroke="#000" stroke-width="1.5"/>
<rect x="403" y="518.8" width="5.8" height="6.6" rx="0.4" fill="#fff" stroke="#000" stroke-width="1.5"/>
<rect x="425.7" y="547.1" width="5.8" height="6.6" rx="0.4" fill="#fff" stroke="#000" stroke-width="1.5"/>
<rect x="471.5" y="559.7" width="5.8" height="6.6" rx="0.4" fill="#fff" stroke="#000" stroke-width="1.5"/>
<rect x="379.9" y="465.5" width="7.4" height="8.2" rx="0.4" fill="#000"/>
<rect x="402.2" y="554.4" width="7.4" height="8.2" rx="0.4" fill="#000"/>
<rect x="424.9" y="556.3" width="7.4" height="8.2" rx="0.4" fill="#000"/>
<rect x="470.7" y="568.4" width="7.4" height="8.2" rx="0.4" fill="#000"/>
<line x1="67.5" y1="602" x2="67.5" y2="641.3" stroke="#000" stroke-width="1.1"/>
<line x1="66.2" y1="602" x2="68.8" y2="602" stroke="#000" stroke-width="1.1"/>
<line x1="66.2" y1="641.3" x2="68.8" y2="641.3" stroke="#000" stroke-width="1.1"/>
<line x1="90" y1="669.5" x2="90" y2="692.5" stroke="#000" stroke-width="1.1"/>
<line x1="88.7" y1="669.5" x2="91.3" y2="669.5" stroke="#000" stroke-width="1.1"/>
<line x1="88.7" y1="692.5" x2="91.3" y2="692.5" stroke="#000" stroke-width="1.1"/>
<line x1="135.5" y1="693.8" x2="135.5" y2="703.8" stroke="#000" stroke-width="1.1"/>
<line x1="134.2" y1="693.8" x2="136.8" y2="693.8" stroke="#000" stroke-width="1.1"/>
<line x1="134.2" y1="703.8" x2="136.8" y2="703.8" stroke="#000" stroke-width="1.1"/>
<polyline points="46.25,603.8 67.5,612.5 90,687 135.5,698.8" fill="none" stroke="#000" stroke-width="1.1" stroke-linejoin="miter"/>
<polyline points="46.25,603.8 67.5,622 90,675.8 135.5,698.8" fill="none" stroke="#000" stroke-width="1.1" stroke-linejoin="miter"/>
<rect x="43.35" y="600.5" width="5.8" height="6.6" rx="0.4" fill="#fff" stroke="#000" stroke-width="1.5"/>
<rect x="64.6" y="609.2" width="5.8" height="6.6" rx="0.4" fill="#fff" stroke="#000" stroke-width="1.5"/>
<rect x="87.1" y="683.7" width="5.8" height="6.6" rx="0.4" fill="#fff" stroke="#000" stroke-width="1.5"/>
<rect x="132.6" y="695.5" width="5.8" height="6.6" rx="0.4" fill="#fff" stroke="#000" stroke-width="1.5"/>
<rect x="42.55" y="599.7" width="7.4" height="8.2" rx="0.4" fill="#000"/>
<rect x="63.8" y="617.9" width="7.4" height="8.2" rx="0.4" fill="#000"/>
<rect x="86.3" y="671.7" width="7.4" height="8.2" rx="0.4" fill="#000"/>
<rect x="131.8" y="694.7" width="7.4" height="8.2" rx="0.4" fill="#000"/>
<line x1="180.5" y1="643" x2="180.5" y2="681.2" stroke="#000" stroke-width="1.1"/>
<line x1="179.2" y1="643" x2="181.8" y2="643" stroke="#000" stroke-width="1.1"/>
<line x1="179.2" y1="681.2" x2="181.8" y2="681.2" stroke="#000" stroke-width="1.1"/>
<line x1="203.5" y1="678.8" x2="203.5" y2="710" stroke="#000" stroke-width="1.1"/>
<line x1="202.2" y1="678.8" x2="204.8" y2="678.8" stroke="#000" stroke-width="1.1"/>
<line x1="202.2" y1="710" x2="204.8" y2="710" stroke="#000" stroke-width="1.1"/>
<polyline points="158.7,603.8 180.5,659.2 203.5,693.8 248.3,718.1" fill="none" stroke="#000" stroke-width="1.1" stroke-linejoin="miter"/>
<polyline points="158.7,603.8 180.5,670.3 203.5,693.8 248.3,710" fill="none" stroke="#000" stroke-width="1.1" stroke-linejoin="miter"/>
<rect x="155.8" y="600.5" width="5.8" height="6.6" rx="0.4" fill="#fff" stroke="#000" stroke-width="1.5"/>
<rect x="177.6" y="655.9" width="5.8" height="6.6" rx="0.4" fill="#fff" stroke="#000" stroke-width="1.5"/>
<rect x="200.6" y="690.5" width="5.8" height="6.6" rx="0.4" fill="#fff" stroke="#000" stroke-width="1.5"/>
<rect x="245.4" y="714.8" width="5.8" height="6.6" rx="0.4" fill="#fff" stroke="#000" stroke-width="1.5"/>
<rect x="155" y="599.7" width="7.4" height="8.2" rx="0.4" fill="#000"/>
<rect x="176.8" y="666.2" width="7.4" height="8.2" rx="0.4" fill="#000"/>
<rect x="199.8" y="689.7" width="7.4" height="8.2" rx="0.4" fill="#000"/>
<rect x="244.6" y="705.9" width="7.4" height="8.2" rx="0.4" fill="#000"/>
<line x1="294" y1="665" x2="294" y2="680" stroke="#000" stroke-width="1.1"/>
<line x1="292.7" y1="665" x2="295.3" y2="665" stroke="#000" stroke-width="1.1"/>
<line x1="292.7" y1="680" x2="295.3" y2="680" stroke="#000" stroke-width="1.1"/>
<line x1="315.8" y1="658" x2="315.8" y2="700.3" stroke="#000" stroke-width="1.1"/>
<line x1="314.5" y1="658" x2="317.1" y2="658" stroke="#000" stroke-width="1.1"/>
<line x1="314.5" y1="700.3" x2="317.1" y2="700.3" stroke="#000" stroke-width="1.1"/>
<line x1="361.6" y1="700.8" x2="361.6" y2="712" stroke="#000" stroke-width="1.1"/>
<line x1="360.3" y1="700.8" x2="362.9" y2="700.8" stroke="#000" stroke-width="1.1"/>
<line x1="360.3" y1="712" x2="362.9" y2="712" stroke="#000" stroke-width="1.1"/>
<polyline points="271,603.8 294,675 315.8,668.5 361.6,706.5" fill="none" stroke="#000" stroke-width="1.1" stroke-linejoin="miter"/>
<polyline points="271,603.8 294,675.4 315.8,688.8 361.6,712.3" fill="none" stroke="#000" stroke-width="1.1" stroke-linejoin="miter"/>
<rect x="268.1" y="600.5" width="5.8" height="6.6" rx="0.4" fill="#fff" stroke="#000" stroke-width="1.5"/>
<rect x="291.1" y="671.7" width="5.8" height="6.6" rx="0.4" fill="#fff" stroke="#000" stroke-width="1.5"/>
<rect x="312.9" y="665.2" width="5.8" height="6.6" rx="0.4" fill="#fff" stroke="#000" stroke-width="1.5"/>
<rect x="358.7" y="703.2" width="5.8" height="6.6" rx="0.4" fill="#fff" stroke="#000" stroke-width="1.5"/>
<rect x="267.3" y="599.7" width="7.4" height="8.2" rx="0.4" fill="#000"/>
<rect x="290.3" y="671.3" width="7.4" height="8.2" rx="0.4" fill="#000"/>
<rect x="312.1" y="684.7" width="7.4" height="8.2" rx="0.4" fill="#000"/>
<rect x="357.9" y="708.2" width="7.4" height="8.2" rx="0.4" fill="#000"/>
<line x1="428.6" y1="651.3" x2="428.6" y2="683.4" stroke="#000" stroke-width="1.1"/>
<line x1="427.3" y1="651.3" x2="429.9" y2="651.3" stroke="#000" stroke-width="1.1"/>
<line x1="427.3" y1="683.4" x2="429.9" y2="683.4" stroke="#000" stroke-width="1.1"/>
<line x1="474.4" y1="700" x2="474.4" y2="716.9" stroke="#000" stroke-width="1.1"/>
<line x1="473.1" y1="700" x2="475.7" y2="700" stroke="#000" stroke-width="1.1"/>
<line x1="473.1" y1="716.9" x2="475.7" y2="716.9" stroke="#000" stroke-width="1.1"/>
<polyline points="383.6,603.4 405.9,643 428.6,664.7 474.4,692.6" fill="none" stroke="#000" stroke-width="1.1" stroke-linejoin="miter"/>
<polyline points="383.6,603.4 405.9,643.8 428.6,676.4 474.4,706.6" fill="none" stroke="#000" stroke-width="1.1" stroke-linejoin="miter"/>
<rect x="380.7" y="600.1" width="5.8" height="6.6" rx="0.4" fill="#fff" stroke="#000" stroke-width="1.5"/>
<rect x="403" y="639.7" width="5.8" height="6.6" rx="0.4" fill="#fff" stroke="#000" stroke-width="1.5"/>
<rect x="425.7" y="661.4" width="5.8" height="6.6" rx="0.4" fill="#fff" stroke="#000" stroke-width="1.5"/>
<rect x="471.5" y="689.3" width="5.8" height="6.6" rx="0.4" fill="#fff" stroke="#000" stroke-width="1.5"/>
<rect x="379.9" y="599.3" width="7.4" height="8.2" rx="0.4" fill="#000"/>
<rect x="402.2" y="639.7" width="7.4" height="8.2" rx="0.4" fill="#000"/>
<rect x="424.9" y="672.3" width="7.4" height="8.2" rx="0.4" fill="#000"/>
<rect x="470.7" y="702.5" width="7.4" height="8.2" rx="0.4" fill="#000"/>
<text x="-0.5" y="800.2" font-size="25" text-anchor="start" font-weight="bold" >E</text>
<rect x="47.2" y="801.5" width="193" height="149.5" fill="none" stroke="#000" stroke-width="1.6"/>
<line x1="44.2" y1="814.6" x2="47.2" y2="814.6" stroke="#000" stroke-width="1.6"/>
<line x1="44.2" y1="828.26" x2="47.2" y2="828.26" stroke="#000" stroke-width="1.6"/>
<line x1="44.2" y1="841.92" x2="47.2" y2="841.92" stroke="#000" stroke-width="1.6"/>
<line x1="44.2" y1="855.58" x2="47.2" y2="855.58" stroke="#000" stroke-width="1.6"/>
<line x1="44.2" y1="869.24" x2="47.2" y2="869.24" stroke="#000" stroke-width="1.6"/>
<line x1="44.2" y1="882.9" x2="47.2" y2="882.9" stroke="#000" stroke-width="1.6"/>
<line x1="44.2" y1="896.56" x2="47.2" y2="896.56" stroke="#000" stroke-width="1.6"/>
<line x1="44.2" y1="910.22" x2="47.2" y2="910.22" stroke="#000" stroke-width="1.6"/>
<line x1="44.2" y1="923.88" x2="47.2" y2="923.88" stroke="#000" stroke-width="1.6"/>
<line x1="44.2" y1="937.54" x2="47.2" y2="937.54" stroke="#000" stroke-width="1.6"/>
<line x1="44.2" y1="951.2" x2="47.2" y2="951.2" stroke="#000" stroke-width="1.6"/>
<text x="40.4" y="820.2" font-size="14" text-anchor="end" font-weight="bold" >100</text>
<text x="40.4" y="887.3" font-size="14" text-anchor="end" font-weight="bold" >50</text>
<text x="39.4" y="956" font-size="14" text-anchor="end" font-weight="bold" >0</text>
<line x1="47.2" y1="951" x2="47.2" y2="954" stroke="#000" stroke-width="1.6"/>
<text x="47.5" y="965.8" font-size="14" text-anchor="middle" font-weight="bold" >0</text>
<line x1="77.6" y1="951" x2="77.6" y2="954" stroke="#000" stroke-width="1.6"/>
<text x="77.9" y="965.8" font-size="14" text-anchor="middle" font-weight="bold" >10</text>
<line x1="108.3" y1="951" x2="108.3" y2="954" stroke="#000" stroke-width="1.6"/>
<text x="108.6" y="965.8" font-size="14" text-anchor="middle" font-weight="bold" >20</text>
<line x1="138.8" y1="951" x2="138.8" y2="954" stroke="#000" stroke-width="1.6"/>
<text x="139.1" y="965.8" font-size="14" text-anchor="middle" font-weight="bold" >30</text>
<line x1="168.8" y1="951" x2="168.8" y2="954" stroke="#000" stroke-width="1.6"/>
<text x="169.1" y="965.8" font-size="14" text-anchor="middle" font-weight="bold" >40</text>
<line x1="199.7" y1="951" x2="199.7" y2="954" stroke="#000" stroke-width="1.6"/>
<text x="200" y="965.8" font-size="14" text-anchor="middle" font-weight="bold" >50</text>
<line x1="229.7" y1="951" x2="229.7" y2="954" stroke="#000" stroke-width="1.6"/>
<text x="230" y="965.8" font-size="14" text-anchor="middle" font-weight="bold" >60</text>
<text x="145.6" y="981" font-size="14.5" text-anchor="middle" font-weight="bold" >Days</text>
<text transform="translate(11.7,883.4) rotate(-90)" font-size="14.3" text-anchor="middle" font-weight="bold">Overall Survival (%)</text>
<path d="M47.57,940.11 L52.8,943.25 L57.93,939.73 L58.41,940.49 L53.13,949.8 L52.47,949.8 L47.19,941.06 Z" fill="#000"/>
<polyline points="47.5,814.4 171.5,814.4 171.5,830 233,830" fill="none" stroke="#000" stroke-width="1.45" stroke-linejoin="miter"/>
<polyline points="146,814.4 146,829.4 154.6,829.4 154.6,847.5 233,847.5" fill="none" stroke="#000" stroke-width="1.45" stroke-linejoin="miter"/>
<polyline points="101.4,814.4 101.4,829.4 129.6,829.4 129.6,865.2 134.2,865.2 134.2,882.8 136.1,882.8 136.1,898.7 150,898.7 150,916 164.2,916 164.2,932.1 167.8,932.1 167.8,950.5" fill="none" stroke="#000" stroke-width="1.45" stroke-linejoin="miter"/>
<rect x="43.9" y="811.3" width="7.4" height="7.4" fill="#000"/>
<ellipse cx="101.4" cy="829.4" rx="3.6999999999999997" ry="3.1999999999999997" fill="#fff" stroke="#000" stroke-width="1.3"/>
<ellipse cx="129.6" cy="865.2" rx="3.6999999999999997" ry="3.1999999999999997" fill="#fff" stroke="#000" stroke-width="1.3"/>
<ellipse cx="134.4" cy="882.8" rx="3.6999999999999997" ry="3.1999999999999997" fill="#fff" stroke="#000" stroke-width="1.3"/>
<ellipse cx="136.1" cy="898.7" rx="3.6999999999999997" ry="3.1999999999999997" fill="#fff" stroke="#000" stroke-width="1.3"/>
<ellipse cx="150" cy="916" rx="3.6999999999999997" ry="3.1999999999999997" fill="#fff" stroke="#000" stroke-width="1.3"/>
<ellipse cx="164.4" cy="932.2" rx="3.6999999999999997" ry="3.1999999999999997" fill="#fff" stroke="#000" stroke-width="1.3"/>
<ellipse cx="167.9" cy="950.6" rx="3.6999999999999997" ry="3.1999999999999997" fill="#fff" stroke="#000" stroke-width="1.3"/>
<rect x="142.8" y="825.5" width="7.2" height="8.2" rx="0.5" fill="#000"/>
<rect x="151" y="843.4" width="7.2" height="8.2" rx="0.5" fill="#000"/>
<rect x="229.4" y="843.4" width="7.2" height="8.2" rx="0.5" fill="#000"/>
<rect x="169" y="826.8" width="5.6" height="6.4" rx="0.5" fill="#fff" stroke="#000" stroke-width="1.4"/>
<rect x="230.2" y="826.8" width="5.6" height="6.4" rx="0.5" fill="#fff" stroke="#000" stroke-width="1.4"/>
<text x="204.5" y="814.4" font-size="14" text-anchor="middle" font-weight="bold" >MB20-18</text>
<text x="204.6" y="828.6" font-size="14" text-anchor="middle" font-weight="bold" >K322A</text>
<text x="195.5" y="865.4" font-size="14" text-anchor="middle" font-weight="bold" >MB20-18</text>
<text x="131" y="943.2" font-size="14" text-anchor="middle" font-weight="bold" >CTRL mAb</text>
<text x="262.5" y="799.8" font-size="25" text-anchor="start" font-weight="bold" >F</text>
<rect x="283.6" y="801.3" width="192.5" height="149.7" fill="none" stroke="#000" stroke-width="1.6"/>
<line x1="280.6" y1="814.2" x2="283.6" y2="814.2" stroke="#000" stroke-width="1.6"/>
<line x1="280.6" y1="827.88" x2="283.6" y2="827.88" stroke="#000" stroke-width="1.6"/>
<line x1="280.6" y1="841.56" x2="283.6" y2="841.56" stroke="#000" stroke-width="1.6"/>
<line x1="280.6" y1="855.24" x2="283.6" y2="855.24" stroke="#000" stroke-width="1.6"/>
<line x1="280.6" y1="868.92" x2="283.6" y2="868.92" stroke="#000" stroke-width="1.6"/>
<line x1="280.6" y1="882.6" x2="283.6" y2="882.6" stroke="#000" stroke-width="1.6"/>
<line x1="280.6" y1="896.28" x2="283.6" y2="896.28" stroke="#000" stroke-width="1.6"/>
<line x1="280.6" y1="909.96" x2="283.6" y2="909.96" stroke="#000" stroke-width="1.6"/>
<line x1="280.6" y1="923.64" x2="283.6" y2="923.64" stroke="#000" stroke-width="1.6"/>
<line x1="280.6" y1="937.32" x2="283.6" y2="937.32" stroke="#000" stroke-width="1.6"/>
<line x1="280.6" y1="951" x2="283.6" y2="951" stroke="#000" stroke-width="1.6"/>
<line x1="283.7" y1="951" x2="283.7" y2="954" stroke="#000" stroke-width="1.6"/>
<text x="284" y="965.8" font-size="14" text-anchor="middle" font-weight="bold" >0</text>
<line x1="313.8" y1="951" x2="313.8" y2="954" stroke="#000" stroke-width="1.6"/>
<text x="314.1" y="965.8" font-size="14" text-anchor="middle" font-weight="bold" >10</text>
<line x1="344.8" y1="951" x2="344.8" y2="954" stroke="#000" stroke-width="1.6"/>
<text x="345.1" y="965.8" font-size="14" text-anchor="middle" font-weight="bold" >20</text>
<line x1="374.6" y1="951" x2="374.6" y2="954" stroke="#000" stroke-width="1.6"/>
<text x="374.9" y="965.8" font-size="14" text-anchor="middle" font-weight="bold" >30</text>
<line x1="405" y1="951" x2="405" y2="954" stroke="#000" stroke-width="1.6"/>
<text x="405.3" y="965.8" font-size="14" text-anchor="middle" font-weight="bold" >40</text>
<line x1="435.8" y1="951" x2="435.8" y2="954" stroke="#000" stroke-width="1.6"/>
<text x="436.1" y="965.8" font-size="14" text-anchor="middle" font-weight="bold" >50</text>
<line x1="465.6" y1="951" x2="465.6" y2="954" stroke="#000" stroke-width="1.6"/>
<text x="465.9" y="965.8" font-size="14" text-anchor="middle" font-weight="bold" >60</text>
<text x="384.8" y="979.6" font-size="14.5" text-anchor="middle" font-weight="bold" >Days</text>
<polygon points="281.9,969.7 283.05,972.52 286.08,972.74 283.75,974.7 284.49,977.66 281.9,976.05 279.31,977.66 280.05,974.7 277.72,972.74 280.75,972.52" fill="#000"/>
<polygon points="291.4,969.7 292.55,972.52 295.58,972.74 293.25,974.7 293.99,977.66 291.4,976.05 288.81,977.66 289.55,974.7 287.22,972.74 290.25,972.52" fill="#000"/>
<polygon points="301,969.7 302.15,972.52 305.18,972.74 302.85,974.7 303.59,977.66 301,976.05 298.41,977.66 299.15,974.7 296.82,972.74 299.85,972.52" fill="#000"/>
<polygon points="310.5,969.7 311.65,972.52 314.68,972.74 312.35,974.7 313.09,977.66 310.5,976.05 307.91,977.66 308.65,974.7 306.32,972.74 309.35,972.52" fill="#000"/>
<path d="M283.1,940.2 L288.6,943.5 L294,939.8 L294.5,940.6 L288.95,950.4 L288.25,950.4 L282.7,941.2 Z" fill="#000"/>
<polyline points="283.7,814.2 464,814.2" fill="none" stroke="#000" stroke-width="1.45" stroke-linejoin="miter"/>
<polyline points="403.7,814.2 403.7,841.2 464.8,841.2" fill="none" stroke="#000" stroke-width="1.45" stroke-linejoin="miter"/>
<polyline points="370.8,814.2 370.8,841.5 374.2,841.5 374.2,867 381.4,867 381.4,922.4 394.6,922.4 394.6,950.9" fill="none" stroke="#000" stroke-width="1.45" stroke-linejoin="miter"/>
<polyline points="375.8,814.2 375.8,842 378.7,842 378.7,895 381.6,895 381.6,922.6 403.6,922.6 403.6,951.2" fill="none" stroke="#000" stroke-width="1.45" stroke-linejoin="miter"/>
<circle cx="283.8" cy="814.2" r="3.6" fill="#000"/>
<path d="M460.3,817.12 L464,810.09 L467.7,817.12 Z" fill="#000"/>
<circle cx="403.7" cy="841.2" r="3.6" fill="#000"/>
<circle cx="464.8" cy="841.2" r="3.6" fill="#000"/>
<ellipse cx="370.8" cy="841.6" rx="3.6999999999999997" ry="3.1999999999999997" fill="#fff" stroke="#000" stroke-width="1.3"/>
<ellipse cx="373.7" cy="867.2" rx="3.6999999999999997" ry="3.1999999999999997" fill="#fff" stroke="#000" stroke-width="1.3"/>
<ellipse cx="394.5" cy="950.9" rx="3.6999999999999997" ry="3.1999999999999997" fill="#fff" stroke="#000" stroke-width="1.3"/>
<path d="M374.4,845.57 L378.6,838.43 L382.8,845.57 Z" fill="#fff" stroke="#000" stroke-width="1.3" stroke-linejoin="miter"/>
<path d="M376.8,898.77 L381,891.63 L385.2,898.77 Z" fill="#fff" stroke="#000" stroke-width="1.3" stroke-linejoin="miter"/>
<path d="M377.6,925.37 L381.8,918.23 L386,925.37 Z" fill="#fff" stroke="#000" stroke-width="1.3" stroke-linejoin="miter"/>
<path d="M399.3,954.37 L403.5,947.23 L407.7,954.37 Z" fill="#fff" stroke="#000" stroke-width="1.3" stroke-linejoin="miter"/>
<text x="385.9" y="812.5" font-size="13" text-anchor="middle" font-weight="bold" >CD20 mAb+CVF</text>
<text x="422.8" y="857.3" font-size="13" text-anchor="middle" font-weight="bold" >CD20 mAb</text>
<text x="349.8" y="942.1" font-size="13" text-anchor="middle" font-weight="bold" >CTRL mAb</text>
<text x="425.9" y="907.9" font-size="13" text-anchor="middle" font-weight="bold" >CTRL mAb</text>
<text x="426.1" y="920.8" font-size="13" text-anchor="middle" font-weight="bold" >+CVF</text>
</svg>
</body></html>
